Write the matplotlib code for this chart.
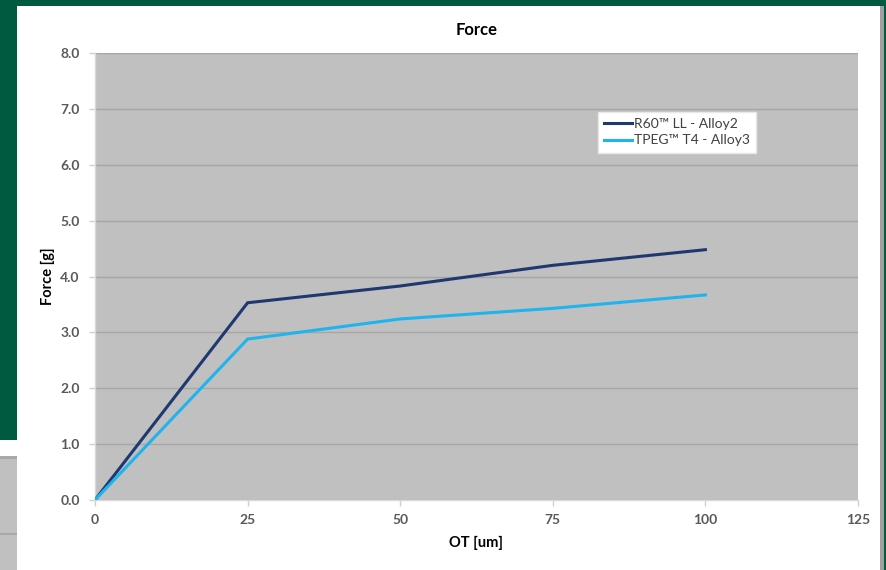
import matplotlib
matplotlib.use("Agg")
import matplotlib.pyplot as plt
from matplotlib.patches import Rectangle

ot_um = [0, 25, 50, 75, 100]
force_r60 = [0.0, 3.53, 3.83, 4.20, 4.48]
force_tpeg = [0.0, 2.88, 3.24, 3.43, 3.67]
series_labels = ["R60™ LL - Alloy2", "TPEG™ T4 - Alloy3"]
x_ticks = [0, 25, 50, 75, 100, 125]
y_ticks = [0.0, 1.0, 2.0, 3.0, 4.0, 5.0, 6.0, 7.0, 8.0]

plt.rcParams["font.family"] = ["Lato", "DejaVu Sans"]

W, H = 886, 570
fig = plt.figure(figsize=(W / 100, H / 100), dpi=100)
fig.patch.set_facecolor("#005a3f")

def px_rect(x0, y0, x1, y1, color, z=0):
    fig.add_artist(Rectangle((x0 / W, 1 - y1 / H), (x1 - x0) / W, (y1 - y0) / H,
                             transform=fig.transFigure, facecolor=color,
                             edgecolor="none", zorder=z))

# surrounding slide background and chart panel
px_rect(0, 440, 17, 456, "white")
px_rect(0, 456, 17, 570, "#c0c0c0")
px_rect(0, 456, 17, 459, "#a8a8a8")
px_rect(0, 533, 17, 535, "#a8a8a8")
px_rect(17, 6, 880, 570, "white")
px_rect(880, 6, 884, 570, "#a0a0a0")

ax = fig.add_axes([95 / W, 1 - 500 / H, (858 - 95) / W, (500 - 53) / H])
ax.set_facecolor("#c0c0c0")
ax.set_zorder(2)

ax.plot(ot_um, force_r60, color="#1f3870", lw=2.2, label=series_labels[0],
        solid_joinstyle="miter", zorder=3)
ax.plot(ot_um, force_tpeg, color="#1fb4ee", lw=2.2, label=series_labels[1],
        solid_joinstyle="miter", zorder=3)

ax.set_xlim(0, 125)
ax.set_ylim(0, 8)
ax.set_xticks(x_ticks)
ax.set_yticks(y_ticks)
ax.set_yticklabels([f"{v:.1f}" for v in y_ticks])
ax.grid(axis="y", color="#a6a6a6", lw=1.0)
ax.set_axisbelow(True)

for side in ["top", "right"]:
    ax.spines[side].set_visible(False)
for side in ["left", "bottom"]:
    ax.spines[side].set_color("#d9d9d9")
    ax.spines[side].set_linewidth(1.0)

ax.tick_params(axis="both", colors="#d0d0d0", labelcolor="#595959",
               labelsize=10, length=4, width=1)
ax.tick_params(axis="y", pad=7)
ax.tick_params(axis="x", pad=6)
for lbl in ax.get_xticklabels() + ax.get_yticklabels():
    lbl.set_fontweight("bold")

ax.set_title("Force", fontsize=12, fontweight="bold", color="black", pad=13)
ax.set_xlabel("OT [um]", fontsize=10.5, fontweight="bold", color="black", labelpad=7)
ax.set_ylabel("Force [g]", fontsize=10.5, fontweight="bold", color="black", labelpad=4)

leg = ax.legend(loc="upper left", bbox_to_anchor=(0.659, 0.868), frameon=True,
                fancybox=False, fontsize=10, handlelength=2.0, handletextpad=0.15,
                borderpad=0.45, labelspacing=0.3, borderaxespad=0)
leg.get_frame().set_facecolor("white")
leg.get_frame().set_edgecolor("#e8e8e8")
leg.get_frame().set_alpha(1)
for t in leg.get_texts():
    t.set_color("#404040")

fig.savefig("out.png", dpi=100, facecolor=fig.get_facecolor())
